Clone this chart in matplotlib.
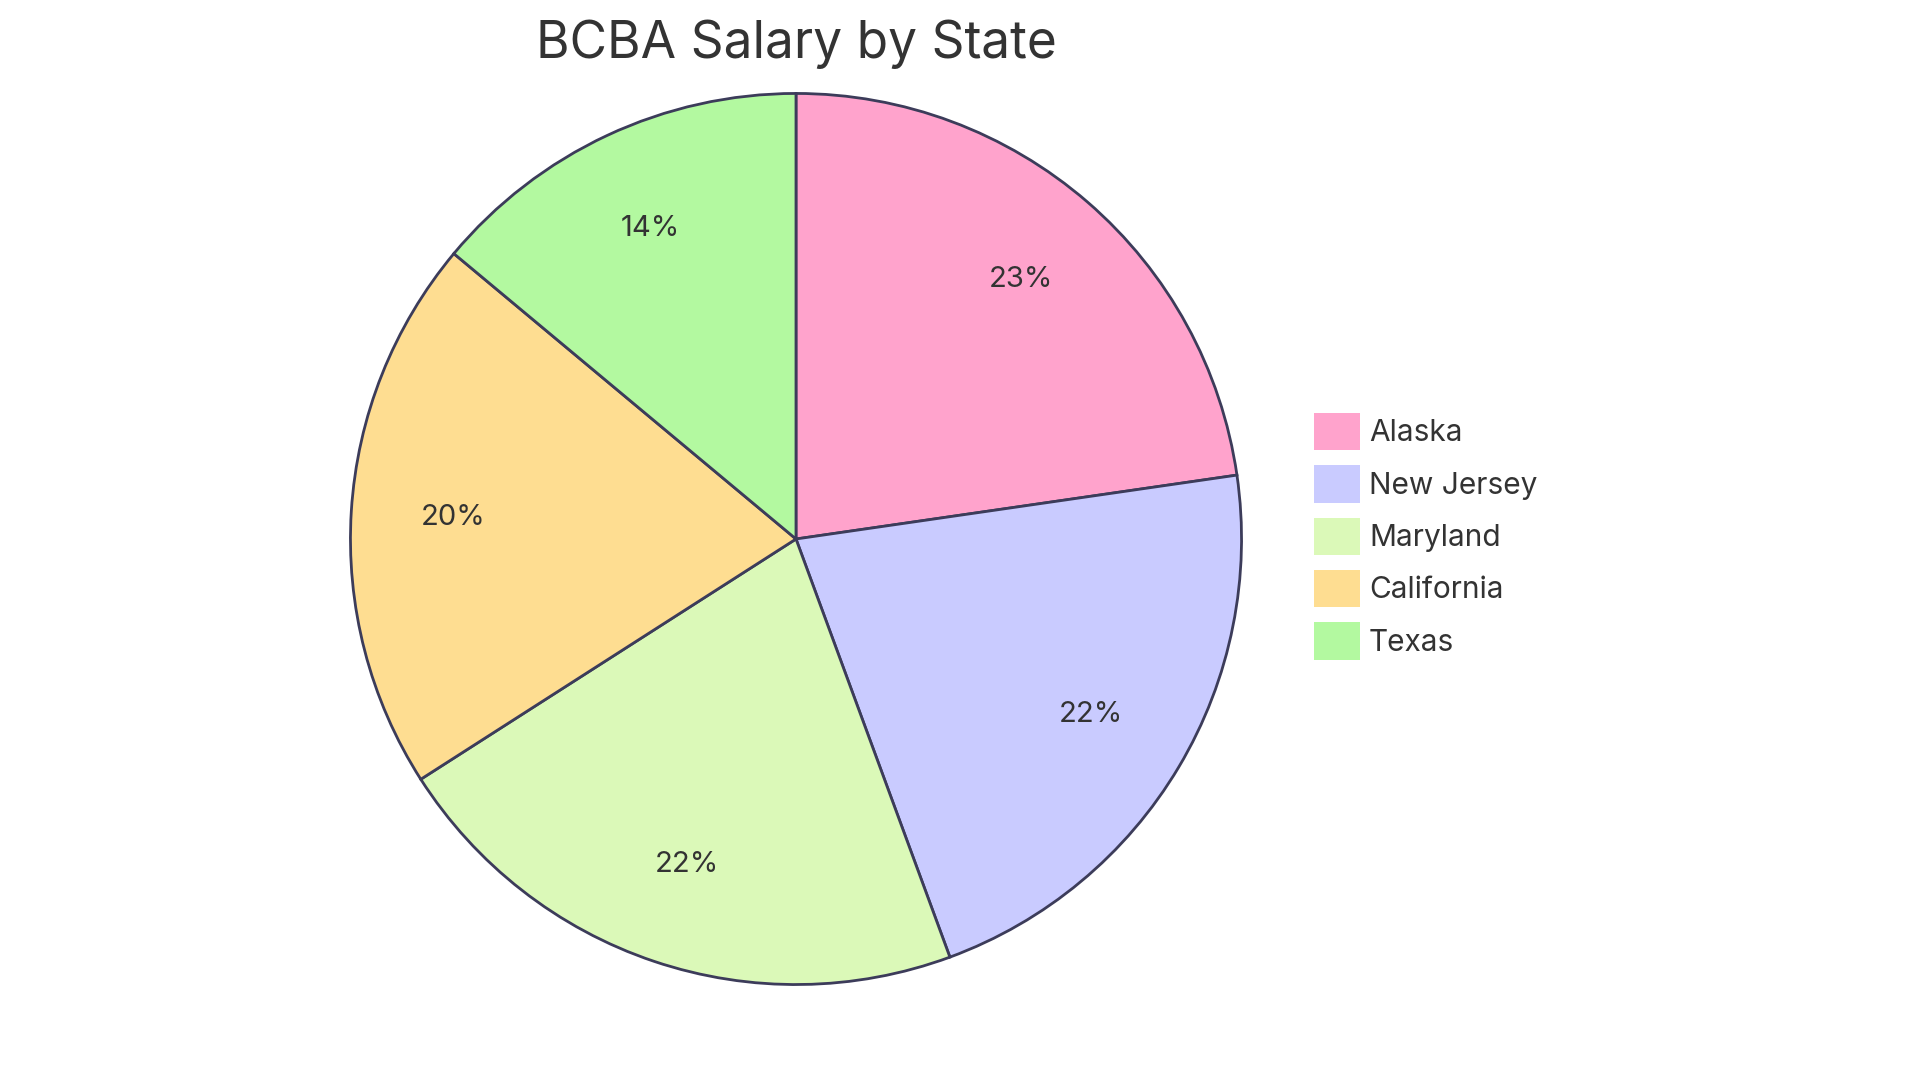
import matplotlib.pyplot as plt
from matplotlib.patches import Patch

plt.rcParams['font.family'] = ['Inter', 'DejaVu Sans']

states = ['Alaska', 'New Jersey', 'Maryland', 'California', 'Texas']
salaries = [88000, 84000, 83500, 78000, 54000]
colors = ['#ffa3cc', '#c9cbff', '#dbf9b8', '#fedd91', '#b3f9a0']

W, H = 1920, 1083
fig = plt.figure(figsize=(W / 100, H / 100), dpi=100)
cx, cy, r = 796, 539, 450
ax = fig.add_axes([(cx - r) / W, 1 - (cy + r) / H, 2 * r / W, 2 * r / H])

wedges, texts, autotexts = ax.pie(
    salaries, colors=colors, startangle=90, counterclock=False,
    autopct='%1.0f%%', pctdistance=0.77,
    wedgeprops=dict(edgecolor='#3c3c5a', linewidth=2),
    textprops=dict(fontsize=21, color='#333333'))
ax.set_xlim(-1.01, 1.01)
ax.set_ylim(-1.01, 1.01)
ax.axis('off')

fig.text(cx / W, 1 - 44 / H, 'BCBA Salary by State', ha='center', va='center',
         fontsize=37, color='#333333')

handles = [Patch(facecolor=c, edgecolor='none', label=s) for c, s in zip(colors, states)]
fig.legend(handles=handles, loc='upper left', bbox_to_anchor=(1287 / W, 1 - 386 / H),
           frameon=False, fontsize=21.5, handlelength=1.55, handleheight=1.55,
           handletextpad=0.3, labelspacing=0.5, labelcolor='#333333')

fig.savefig('out.png', dpi=100, facecolor='white')
